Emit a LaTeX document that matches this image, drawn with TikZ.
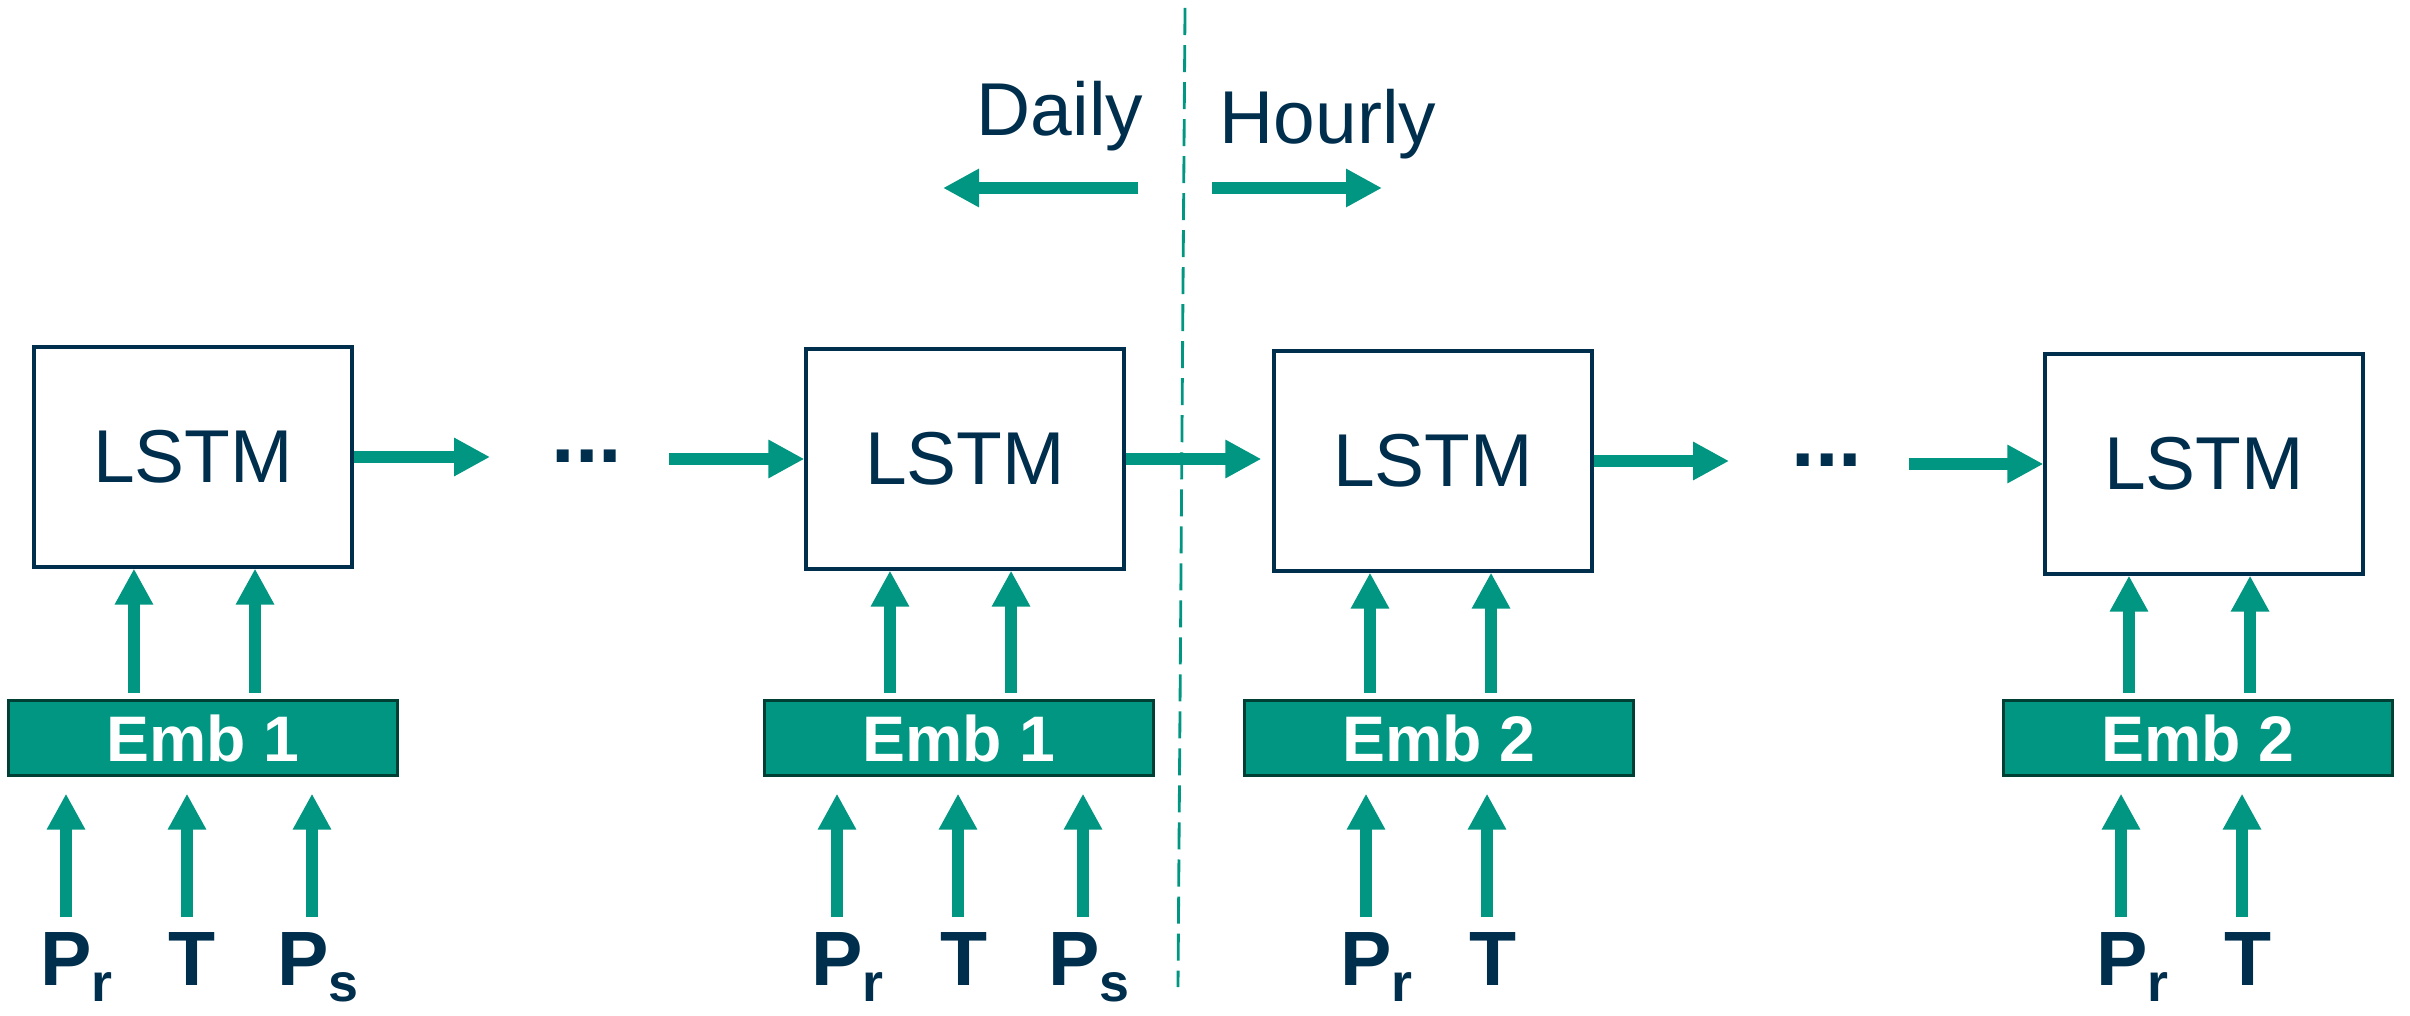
\documentclass[tikz,border=0pt]{standalone}
\usepackage{fontspec}
\setmainfont{Liberation Sans}
\usepackage{xcolor}
\usetikzlibrary{arrows.meta,positioning,calc}
\definecolor{kitgreen}{RGB}{0,150,130}
\definecolor{darkblue}{RGB}{0,46,77}
\definecolor{embedge}{RGB}{0,64,52}
\newcommand{\varsub}[1]{\rlap{\raisebox{-0.16cm}{\fontsize{15.3}{16}\selectfont #1}}}

\begin{document}
\begin{tikzpicture}[x=0.01cm,y=-0.01cm,
  cell/.style={draw=darkblue,line width=1.15pt,fill=white,minimum width=3.17cm,minimum height=2.19cm,text=darkblue,font=\fontsize{21.3}{24}\selectfont},
  emb/.style={draw=embedge,line width=0.9pt,fill=kitgreen,minimum width=3.89cm,minimum height=0.75cm,inner sep=0pt,text=white,font=\fontsize{18.3}{20}\selectfont\bfseries},
  var/.style={inner sep=0pt,anchor=base,text=darkblue,font=\fontsize{21.9}{24}\selectfont\bfseries},
  lbl/.style={inner sep=0pt,anchor=base west,text=darkblue,font=\fontsize{21.3}{24}\selectfont},
  ellip/.style={inner sep=0pt,anchor=base,text=darkblue,font=\fontsize{24}{26}\selectfont\bfseries},
  arr/.style={kitgreen,line width=3.3pt,-{Triangle[length=0.36cm,width=0.36cm]}}]
\useasboundingbox (0,0) rectangle (2410,1016);
% daily | hourly split
\draw[kitgreen,line width=0.8pt,dash pattern=on 0.27cm off 0.1cm] (1185,8) -- (1178,987);
\node[lbl] (daily) at (976,136) {Daily};
\node[lbl] (hourly) at (1219,144) {Hourly};
\coordinate (dayR) at (1138,188); \coordinate (dayL) at (943,188);
\coordinate (hourL) at (1212,188); \coordinate (hourR) at (1382,188);
\draw[arr] (dayR)--(dayL); \draw[arr] (hourL)--(hourR);
% recurrent cells
\node[cell] (lstm1) at (193,457) {LSTM};
\node[cell] (lstm2) at (965,459) {LSTM};
\node[cell] (lstm3) at (1433,461) {LSTM};
\node[cell] (lstm4) at (2204,464) {LSTM};
\node[ellip] (dots1) at (587,463) {...};
\node[ellip] (dots2) at (1827,467) {...};
\draw[arr,shorten >=0.61cm] (lstm1.east)--(lstm1.east -| dots1.west);
\draw[arr,shorten <=0.46cm] (lstm2.west -| dots1.east)--(lstm2.west);
\draw[arr,shorten >=0.11cm] (lstm2.east)--(lstm2.east -| lstm3.west);
\draw[arr,shorten >=0.62cm] (lstm3.east)--(lstm3.east -| dots2.west);
\draw[arr,shorten <=0.46cm] (lstm4.west -| dots2.east)--(lstm4.west);
% embeddings
\node[emb] (emb1) at (203,738) {Emb 1};
\node[emb] (emb2) at (959,738) {Emb 1};
\node[emb] (emb3) at (1439,738) {Emb 2};
\node[emb] (emb4) at (2198,738) {Emb 2};
\foreach \i in {1,...,4}{
  \draw[arr,shorten <=0.06cm] ([xshift=-0.69cm]emb\i.north)--([xshift=-0.69cm]emb\i.north |- lstm\i.south);
  \draw[arr,shorten <=0.06cm] ([xshift=0.52cm]emb\i.north)--([xshift=0.52cm]emb\i.north |- lstm\i.south);
}
% inputs
\foreach \v/\x/\dx/\e/\t in {pr1/66/0/1/P\varsub{r}, t1/192/-5/1/T, ps1/303/9/1/P\varsub{s},
    pr2/837/0/2/P\varsub{r}, t2/964/-6/2/T, ps2/1074/9/2/P\varsub{s},
    pr3/1366/0/3/P\varsub{r}, t3/1493/-6/3/T,
    pr4/2122/-1/4/P\varsub{r}, t4/2248/-6/4/T}{
  \node[var] (\v) at (\x,985) {\t};
  \draw[arr,shorten <=0.14cm,shorten >=0.165cm] ([xshift=\dx*0.01cm]\v.north)--([xshift=\dx*0.01cm]\v.north |- emb\e.south);
}
\end{tikzpicture}
\end{document}
